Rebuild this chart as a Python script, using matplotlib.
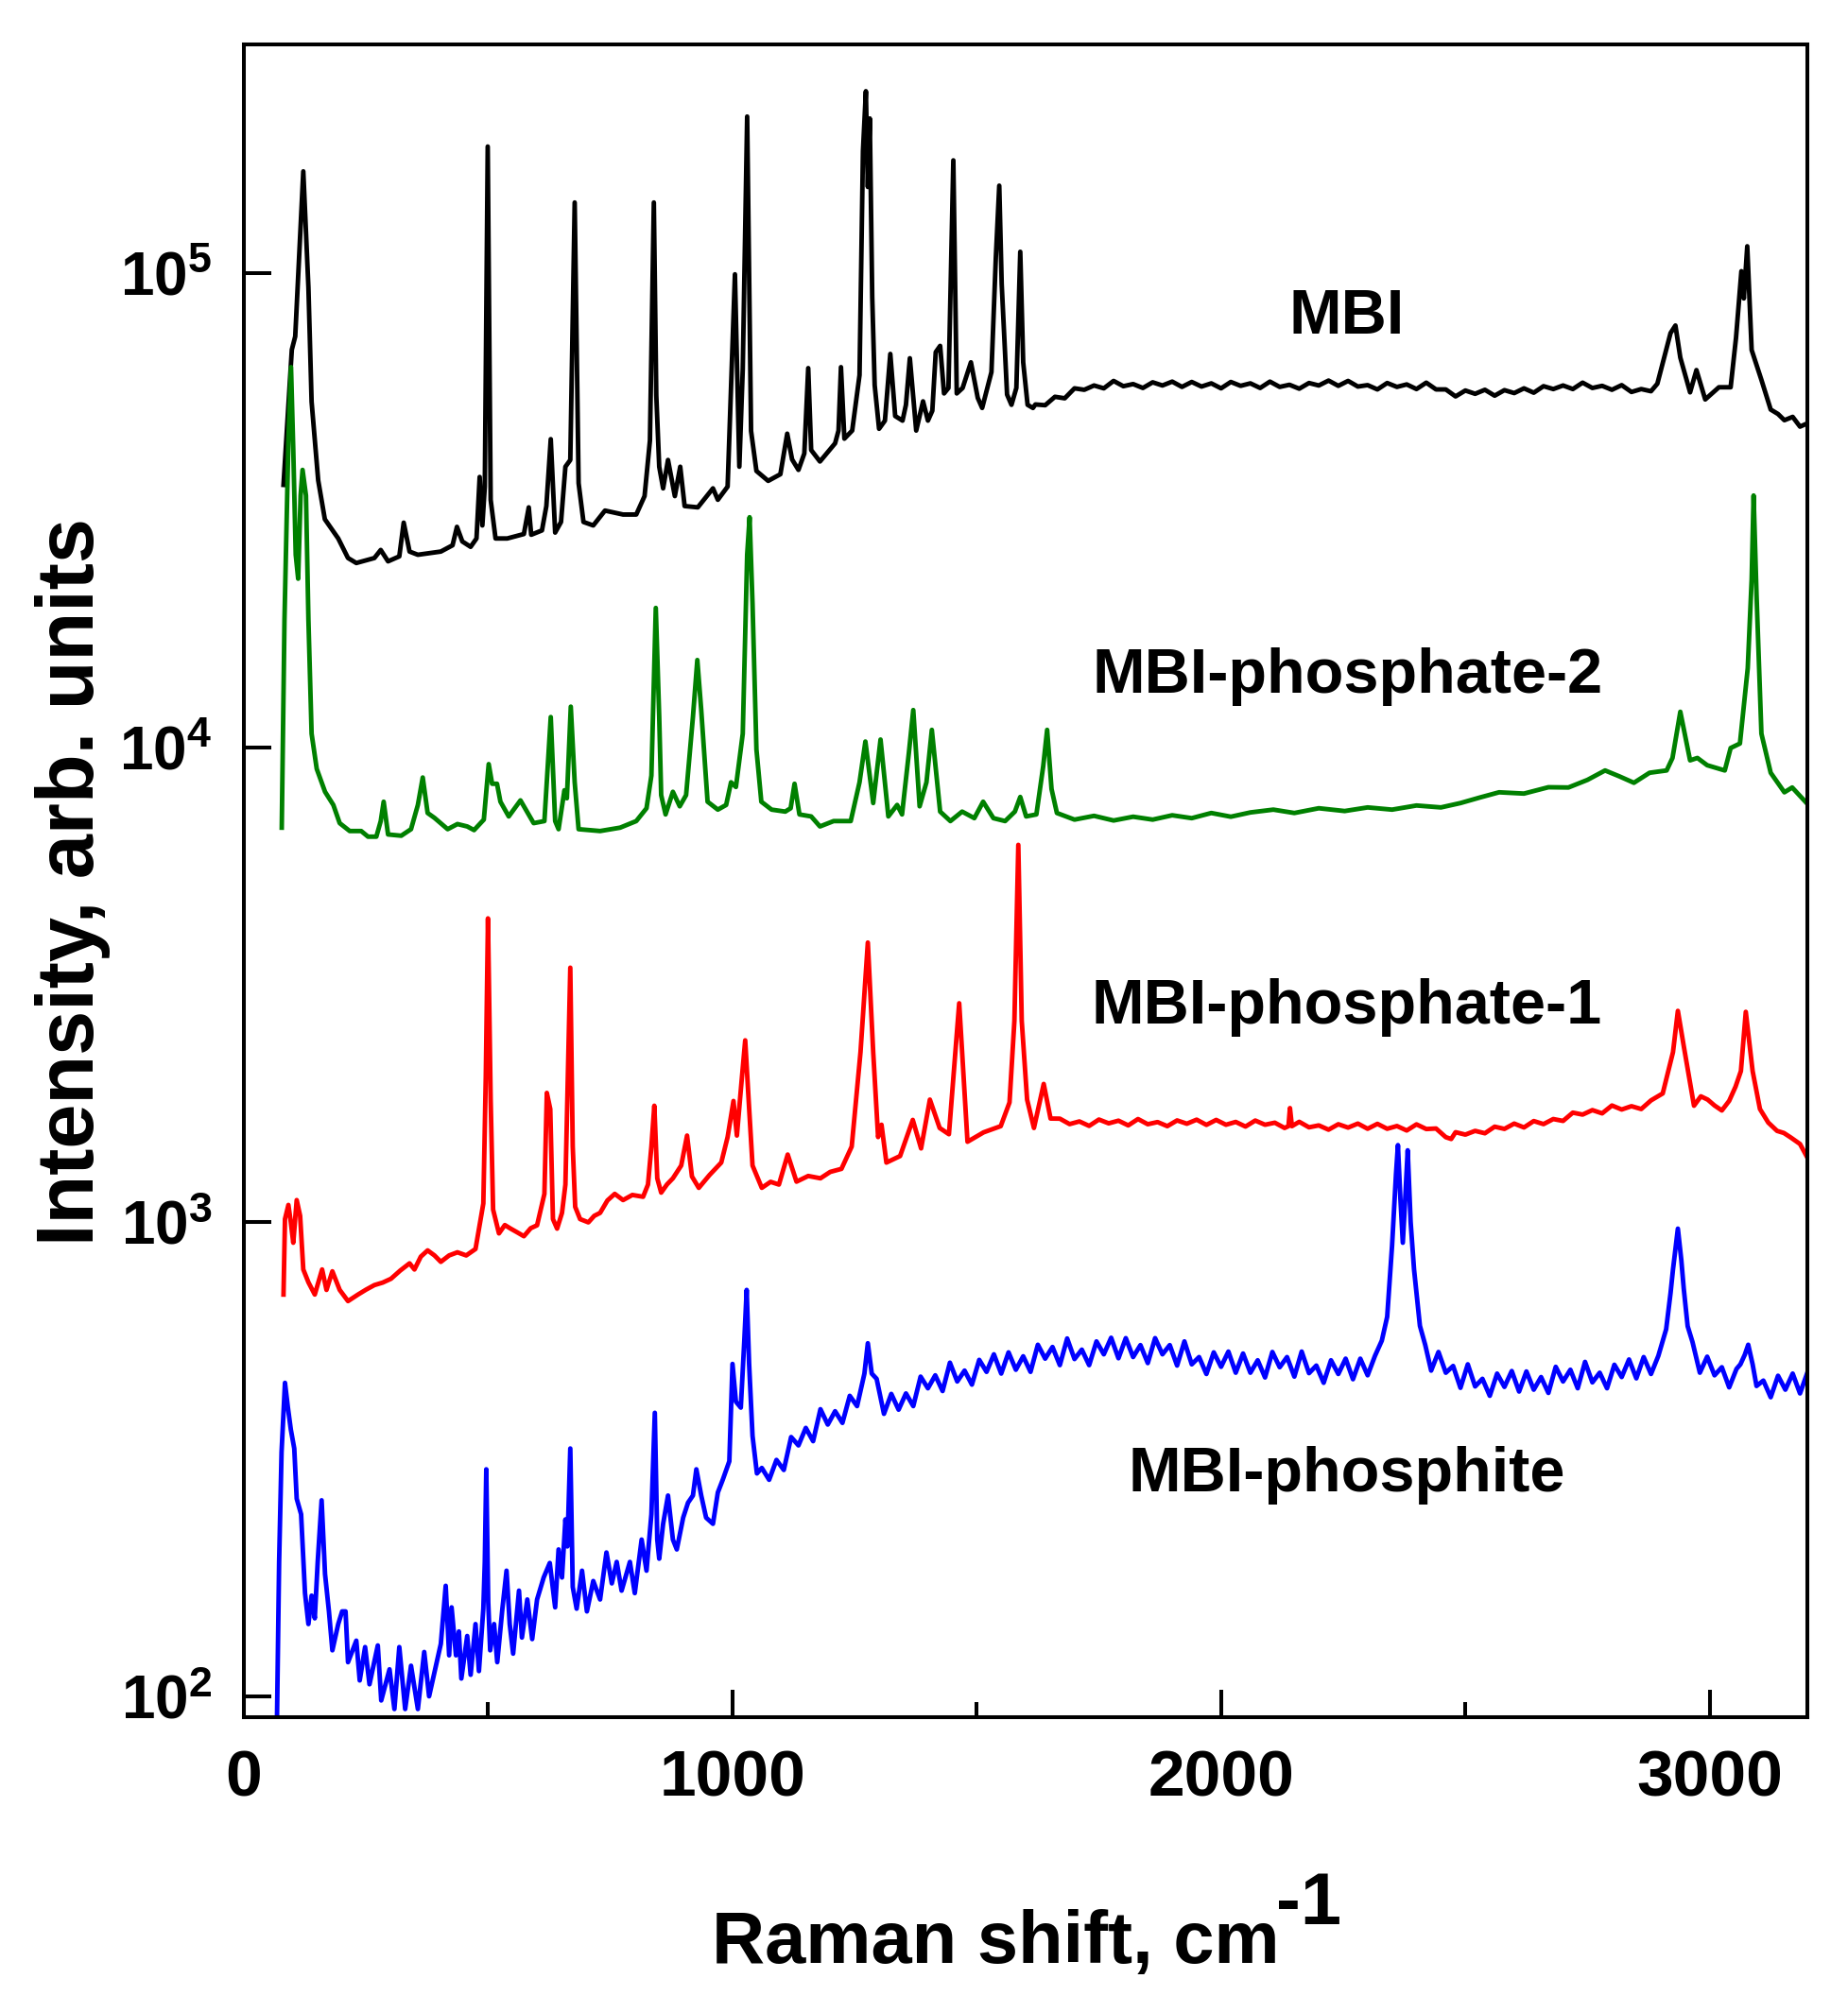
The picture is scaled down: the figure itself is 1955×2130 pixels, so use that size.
import matplotlib
matplotlib.use("Agg")
import matplotlib.pyplot as plt
from matplotlib.ticker import FixedLocator, FixedFormatter

plt.rcParams['font.family'] = ['Liberation Sans', 'DejaVu Sans']
plt.rcParams['font.weight'] = 'bold'
plt.rcParams['mathtext.fontset'] = 'custom'
plt.rcParams['mathtext.rm'] = 'Liberation Sans:bold'
plt.rcParams['mathtext.bf'] = 'Liberation Sans:bold'
plt.rcParams['mathtext.it'] = 'Liberation Sans:bold'
plt.rcParams['mathtext.default'] = 'rm'

# ---------------- data ----------------
mbi_x = [81, 98, 105, 121.5, 132, 138.5, 152, 165.6, 193, 213, 230, 267, 280, 295, 318, 327, 339, 356,
         403, 427, 436, 447, 464, 476, 482.5, 488, 493, 499, 505, 515, 539, 573, 583, 588, 610, 619, 628,
         637, 649, 658, 668, 677, 685, 695, 715, 739, 776, 803, 820, 831, 839, 844, 850, 858, 868, 882,
         893, 902, 929, 960, 970, 990, 1005, 1014, 1021, 1030, 1038, 1049, 1073, 1098, 1112, 1122, 1135,
         1147, 1155, 1161, 1179, 1210, 1217, 1222, 1229, 1245, 1260, 1267, 1273, 1277, 1281, 1286, 1291,
         1300, 1312, 1323, 1333, 1348, 1355, 1363, 1376, 1390, 1400, 1409, 1416, 1425, 1433, 1442, 1452,
         1459, 1471, 1488, 1502, 1511, 1530, 1539, 1546, 1551, 1562, 1571, 1581, 1589, 1595, 1604, 1615,
         1620, 1640, 1660, 1680, 1700, 1720, 1740, 1760, 1780, 1800, 1820, 1840, 1860, 1880, 1900, 1920,
         1940, 1960, 1980, 2000, 2020, 2040, 2060, 2080, 2100, 2120, 2140, 2160, 2180, 2200, 2220, 2240,
         2260, 2280, 2300, 2320, 2340, 2360, 2380, 2400, 2420, 2440, 2460, 2480, 2500, 2520, 2540, 2560,
         2580, 2600, 2620, 2640, 2660, 2680, 2700, 2720, 2740, 2760, 2780, 2800, 2820, 2840, 2860, 2880,
         2893, 2908, 2920, 2930, 2940, 2960, 2973, 2991, 3019, 3043, 3054, 3065, 3070, 3077, 3086, 3106,
         3125, 3140, 3153, 3170, 3185, 3197]
mbi_y = [3.58e4, 6.9e4, 7.36e4, 1.64e5, 9.33e4, 5.36e4, 3.66e4, 3.03e4, 2.76e4, 2.51e4, 2.45e4, 2.51e4,
         2.61e4, 2.47e4, 2.53e4, 2.98e4, 2.59e4, 2.55e4, 2.59e4, 2.67e4, 2.92e4, 2.72e4, 2.65e4, 2.76e4,
         3.72e4, 2.94e4, 3.55e4, 1.85e5, 3.33e4, 2.76e4, 2.76e4, 2.82e4, 3.21e4, 2.81e4, 2.87e4, 3.23e4,
         4.47e4, 2.84e4, 2.99e4, 3.91e4, 4.04e4, 1.41e5, 3.61e4, 2.99e4, 2.94e4, 3.16e4, 3.10e4, 3.10e4,
         3.39e4, 4.44e4, 1.41e5, 5.53e4, 3.91e4, 3.52e4, 4.04e4, 3.39e4, 3.91e4, 3.23e4, 3.21e4, 3.52e4,
         3.33e4, 3.55e4, 9.95e4, 3.91e4, 6.28e4, 2.14e5, 4.65e4, 3.83e4, 3.65e4, 3.77e4, 4.59e4, 4.05e4,
         3.85e4, 4.17e4, 6.31e4, 4.24e4, 4.01e4, 4.38e4, 4.66e4, 6.34e4, 4.48e4, 4.66e4, 6.10e4, 1.81e5,
         2.42e5, 1.52e5, 2.12e5, 8.91e4, 5.81e4, 4.70e4, 4.89e4, 6.76e4, 5.00e4, 4.89e4, 5.28e4, 6.62e4,
         4.66e4, 5.37e4, 4.89e4, 5.13e4, 6.82e4, 7.03e4, 5.58e4, 5.73e4, 1.73e5, 5.58e4, 5.73e4, 6.49e4,
         5.46e4, 5.20e4, 6.19e4, 1.08e5, 1.53e5, 9.49e4, 5.55e4, 5.28e4, 5.73e4, 1.11e5, 6.49e4, 5.28e4,
         5.20e4,
         5.29e4, 5.27e4, 5.49e4, 5.45e4, 5.72e4, 5.68e4, 5.80e4, 5.72e4, 5.93e4, 5.78e4, 5.84e4, 5.73e4,
         5.89e4, 5.80e4, 5.91e4, 5.76e4, 5.90e4, 5.77e4, 5.86e4, 5.72e4, 5.90e4, 5.79e4, 5.86e4, 5.73e4,
         5.91e4, 5.76e4, 5.82e4, 5.71e4, 5.87e4, 5.80e4, 5.94e4, 5.79e4, 5.93e4, 5.77e4, 5.81e4, 5.69e4,
         5.87e4, 5.76e4, 5.83e4, 5.70e4, 5.88e4, 5.69e4, 5.69e4, 5.50e4, 5.66e4, 5.57e4, 5.68e4, 5.52e4,
         5.67e4, 5.59e4, 5.72e4, 5.60e4, 5.78e4, 5.70e4, 5.80e4, 5.70e4, 5.88e4, 5.73e4, 5.79e4, 5.68e4,
         5.81e4, 5.62e4, 5.70e4, 5.64e4,
         5.85e4, 6.71e4, 7.48e4, 7.76e4, 6.64e4, 5.61e4, 6.25e4, 5.42e4, 5.75e4, 5.75e4, 7.31e4, 1.01e5,
         8.85e4, 1.14e5, 6.89e4, 5.96e4, 5.16e4, 5.05e4, 4.90e4, 4.98e4, 4.75e4, 4.81e4]

p2_x = [77.4, 83, 91, 96.4, 101, 106, 111, 116, 120, 127, 132, 138.5, 149, 166, 183, 196, 216.5, 240,
        254, 271, 280, 286, 295, 322, 342, 356, 366, 376, 390, 417, 437, 457, 471, 491, 501, 508, 518,
        525, 542, 566, 593, 615, 628, 637, 644, 656, 661, 669, 677, 685, 729, 770, 803, 824, 834, 843,
        850, 854, 863, 878, 892, 905, 919, 928, 936, 949, 970, 987, 997, 1007, 1021, 1030, 1035, 1041,
        1049, 1059, 1080, 1108, 1119, 1127, 1137, 1161, 1179, 1207, 1242, 1260, 1272, 1288, 1303, 1319,
        1337, 1347, 1361, 1370, 1383, 1397, 1408, 1425, 1446, 1470, 1495, 1513, 1534, 1558, 1578, 1589,
        1601, 1622, 1636, 1644, 1653, 1664, 1700, 1740, 1780, 1820, 1860, 1900, 1940, 1980, 2020, 2060,
        2107, 2150, 2200, 2253, 2300, 2350, 2400, 2450, 2490, 2530, 2569, 2620, 2670, 2711, 2750, 2786,
        2815, 2845, 2877, 2912, 2924, 2940, 2960, 2975, 2995, 3031, 3043, 3062, 3078, 3086, 3090, 3096,
        3106, 3125, 3153, 3169, 3197]
p2_y = [6.78e3, 1.86e4, 4.44e4, 6.34e4, 4.24e4, 2.55e4, 2.27e4, 3.40e4, 3.85e4, 3.40e4, 1.86e4, 1.07e4,
        9.02e3, 8.07e3, 7.57e3, 6.93e3, 6.67e3, 6.67e3, 6.49e3, 6.49e3, 7.00e3, 7.69e3, 6.56e3, 6.52e3,
        6.73e3, 7.57e3, 8.65e3, 7.28e3, 7.11e3, 6.73e3, 6.90e3, 6.82e3, 6.70e3, 7.05e3, 9.23e3, 8.39e3,
        8.39e3, 7.69e3, 7.16e3, 7.74e3, 6.93e3, 7.00e3, 1.16e4, 7.00e3, 6.73e3, 8.13e3, 7.82e3, 1.22e4,
        8.45e3, 6.73e3, 6.67e3, 6.78e3, 7.00e3, 7.45e3, 8.73e3, 1.97e4, 1.16e4, 7.94e3, 7.23e3, 8.07e3,
        7.52e3, 7.94e3, 1.16e4, 1.53e4, 1.20e4, 7.69e3, 7.40e3, 7.57e3, 8.45e3, 8.26e3, 1.07e4, 2.55e4,
        3.06e4, 2.01e4, 9.91e3, 7.69e3, 7.40e3, 7.33e3, 7.45e3, 8.39e3, 7.23e3, 7.16e3, 6.82e3, 7.00e3,
        7.00e3, 8.45e3, 1.03e4, 7.64e3, 1.04e4, 7.16e3, 7.57e3, 7.23e3, 9.75e3, 1.20e4, 7.52e3, 8.45e3,
        1.09e4, 7.33e3, 7.00e3, 7.33e3, 7.10e3, 7.69e3, 7.10e3, 7.00e3, 7.33e3, 7.87e3, 7.16e3, 7.23e3,
        9.14e3, 1.09e4, 8.18e3, 7.28e3, 7.05e3, 7.18e3, 7.02e3, 7.15e3, 7.05e3, 7.20e3, 7.10e3, 7.28e3,
        7.15e3, 7.30e3, 7.40e3, 7.28e3, 7.45e3, 7.35e3, 7.48e3, 7.40e3, 7.55e3, 7.48e3, 7.64e3, 7.85e3,
        8.05e3, 8.00e3, 8.25e3, 8.24e3, 8.55e3, 8.95e3, 8.70e3, 8.43e3, 8.85e3, 8.95e3, 9.51e3, 1.19e4,
        9.40e3, 9.51e3, 9.18e3, 8.95e3, 9.98e3, 1.02e4, 1.47e4, 2.26e4, 3.40e4, 2.10e4, 1.07e4, 8.85e3,
        8.05e3, 8.24e3, 7.67e3]

p1_x = [81, 84, 91, 96, 101, 108, 115, 121.5, 132, 145, 160, 169, 181, 196, 213, 233.5, 250, 267, 284,
        301, 320, 339, 349, 362, 376, 390, 403, 420, 437, 455, 474, 490, 495, 499.5, 505, 510, 522, 534,
        546, 560, 573, 587, 600, 615, 620, 627, 632.5, 641, 651, 658, 664, 668, 673, 678, 688, 705, 717,
        729, 744, 759, 776, 795, 817, 827, 834, 840, 846, 854, 866, 878, 895, 907, 917, 931, 953, 977, 990,
        1002, 1009, 1017, 1026, 1033, 1041, 1060, 1078, 1095, 1113, 1131, 1155, 1180, 1200, 1223, 1244,
        1262, 1277, 1288, 1298, 1305, 1315, 1343, 1369, 1386, 1404, 1424, 1443, 1464, 1481, 1514, 1549,
        1567, 1577, 1585, 1592, 1603, 1617, 1637, 1651,
        1670, 1690, 1710, 1730, 1750, 1770, 1790, 1810, 1830, 1850, 1870, 1890, 1910, 1930, 1950, 1970,
        1990, 2010, 2030, 2050, 2070, 2090, 2110, 2130, 2138, 2141, 2145, 2160, 2180, 2200, 2220, 2240,
        2260, 2280, 2300, 2320, 2340, 2360, 2380, 2400, 2420, 2440, 2460, 2471, 2480, 2500, 2520, 2540,
        2560, 2580, 2600, 2620, 2640, 2660, 2680, 2700, 2720, 2740, 2760, 2780, 2800, 2820, 2840, 2860,
        2880, 2904, 2925, 2935, 2947, 2968, 2982, 2996, 3010, 3025, 3040, 3053, 3064, 3074, 3088, 3103,
        3120, 3138, 3152, 3166, 3185, 3202]
p1_y = [703, 1014, 1086, 998, 904, 1112, 1030, 794, 746, 703, 794, 719, 787, 719, 681, 703, 720, 736, 745,
        759, 790, 818, 794, 845, 871, 850, 824, 850, 863, 850, 877, 1094, 2018, 4365, 1811, 1062, 946, 985,
        968, 950, 933, 970, 984, 1146, 1871, 1730, 1014, 968, 1045, 1199, 2280, 3436, 1442, 1076, 1014,
        998, 1030, 1045, 1110, 1146, 1112, 1140, 1130, 1199, 1442, 1758, 1236, 1153, 1200, 1236, 1315,
        1521, 1247, 1180, 1256, 1334, 1510, 1799, 1521, 1897, 2415, 1811, 1315, 1180, 1215, 1199, 1387,
        1216, 1250, 1236, 1275, 1294, 1442, 2280, 3882, 2280, 1510, 1603, 1334, 1377, 1641, 1429, 1811,
        1578, 1531, 2891, 1476, 1545, 1592, 1786, 2655, 6237, 2655, 1811, 1578, 1954, 1652,
        1651, 1608, 1629, 1594, 1644, 1614, 1635, 1598, 1648, 1607, 1624, 1592, 1637, 1611, 1643, 1602,
        1641, 1603, 1625, 1589, 1636, 1603, 1619, 1578, 1592, 1738, 1592, 1626, 1583, 1598, 1565, 1607,
        1581, 1612, 1572, 1610, 1572, 1593, 1559, 1606, 1570, 1574, 1509, 1496, 1546, 1528, 1556, 1538,
        1588, 1571, 1612, 1582, 1632, 1608, 1648, 1633, 1700, 1684, 1721, 1694, 1760, 1726, 1754, 1730,
        1804, 1866, 2280, 2786, 2350, 1758, 1840, 1811, 1760, 1718, 1800, 1928, 2080, 2773, 2080, 1730,
        1620, 1556, 1540, 1507, 1460, 1355]

pt_x = [67, 72, 77, 84, 90, 96, 103, 108, 117, 125, 132, 138.5, 145, 151, 159, 166, 174, 181, 193, 201,
        208, 213, 230, 237, 248, 257, 274, 281, 298, 308, 318, 330, 342, 356, 369, 379, 393, 403, 413,
        420, 425, 434, 440, 445, 457, 464, 474, 481, 490, 493, 496, 500, 504, 512, 518.5, 529, 537.5,
        544, 551, 563, 569, 580, 590, 600, 613.5, 626, 637, 644, 651, 658, 662, 668, 673, 681, 692, 702,
        715, 729, 742, 753, 763, 773, 790, 800, 814, 824, 834, 841, 846, 850, 858, 868, 878, 886, 899,
        909, 919, 926, 936, 946, 960, 970, 980, 993.5, 1000, 1007, 1017, 1024, 1029, 1034, 1041, 1050,
        1060, 1075, 1090, 1105, 1120, 1135, 1150, 1165, 1180, 1195, 1210, 1225, 1240, 1255, 1270, 1277,
        1285, 1295, 1310, 1325, 1340, 1355, 1370, 1385, 1400, 1415, 1430, 1445, 1460, 1475, 1490, 1505,
        1520, 1535, 1550, 1565, 1580, 1595, 1610, 1625, 1640, 1655, 1670, 1685, 1700, 1715, 1730, 1745,
        1760, 1775, 1790, 1805, 1820, 1835, 1850, 1865, 1880, 1895, 1910, 1925, 1940, 1955, 1970, 1985,
        2000, 2015, 2030, 2045, 2060, 2075, 2090, 2105, 2120, 2135, 2150, 2165, 2180, 2195, 2210, 2225,
        2240, 2255, 2270, 2285, 2300, 2315, 2329, 2340, 2350, 2358, 2362, 2367, 2372, 2377, 2382, 2388,
        2395, 2407, 2418, 2430, 2445, 2460, 2475, 2490, 2505, 2520, 2535, 2550, 2565, 2580, 2595, 2610,
        2625, 2640, 2655, 2670, 2685, 2700, 2715, 2730, 2745, 2760, 2775, 2790, 2805, 2820, 2835, 2850,
        2865, 2880, 2895, 2911, 2920, 2925, 2935, 2942, 2947, 2955, 2965, 2980, 2995, 3010, 3025, 3040,
        3055, 3063, 3072, 3079, 3088, 3096, 3110, 3125, 3140, 3155, 3170, 3185, 3200]
pt_y = [80, 192, 327, 458, 406, 365, 333, 261, 242, 165, 142, 163, 146, 192, 259, 181, 151, 125, 142, 151,
        151, 118, 131, 108, 127, 106, 128, 98, 114, 94, 127, 94, 116, 94, 124, 100, 116, 129, 171, 122,
        154, 122, 137, 109, 134, 111, 142, 113, 153, 192, 301, 158, 125, 142, 118, 153, 184, 142, 123,
        167, 133, 160, 132, 160, 178, 191, 154, 204, 178, 236, 207, 333, 170, 153, 184, 151, 175, 160,
        201, 173, 192, 167, 192, 165, 214, 184, 242, 396, 214, 195, 231, 265, 214, 204, 238, 256, 265,
        301, 265, 238, 231, 269, 286, 313, 502, 418, 406, 558, 719, 502, 354, 295,
        303, 286, 315, 300, 352, 338, 368, 345, 403, 374, 399, 377, 430, 409, 479, 555,
        479, 467, 394, 434, 402, 435, 409, 472, 446, 475, 440, 505, 461, 486, 454, 512,
        483, 526, 479, 531, 488, 521, 483, 551, 515, 545, 499, 568, 514, 538, 499, 560,
        526, 570, 516, 569, 519, 550, 504, 569, 526, 550, 498, 560, 501, 519, 478, 531,
        495, 533, 481, 528, 481, 511, 470, 532, 494, 519, 472, 533, 480, 498, 458, 511,
        478, 515, 466, 515, 475, 522, 562, 631, 891, 1259, 1452, 1122, 904, 1122, 1416, 1000,
        794, 604, 550, 486, 532, 481, 497, 447, 501, 450, 467, 430, 479, 449, 485, 439,
        484, 443, 471, 436, 495, 461, 488, 446, 507, 459, 481, 446, 500, 471, 513, 468,
        519, 478, 522, 594, 708, 794, 968, 832, 724, 603, 558, 481, 520, 475, 494, 448,
        490, 501, 525, 551, 501, 451, 463, 427, 474, 443, 479, 435, 481]

labels = ["MBI", "MBI-phosphate-2", "MBI-phosphate-1", "MBI-phosphite"]
label_x = [2258, 2258, 2258, 2258]
label_y = [7.47e4, 1.306e4, 2.625e3, 2.70e2]

x_major = [0, 1000, 2000, 3000]
x_minor = [500, 1500, 2500]
x_ticklabels = ["0", "1000", "2000", "3000"]
y_major = [1e2, 1e3, 1e4, 1e5]
y_ticklabels = [r"$10^{2}$", r"$10^{3}$", r"$10^{4}$", r"$10^{5}$"]

# ---------------- figure ----------------
fig = plt.figure(figsize=(19.55, 21.30), dpi=100)
ax = fig.add_axes([0.132, 0.147, 0.846, 0.8307])

lw = 3.5
ax.plot(mbi_x, mbi_y, color="#000000", lw=lw)
ax.plot(p2_x, p2_y, color="#008000", lw=lw)
ax.plot(p1_x, p1_y, color="#ff0000", lw=lw)
ax.plot(pt_x, pt_y, color="#0000ff", lw=lw)

ax.set_yscale("log")
ax.set_xlim(0, 3200)
ax.set_ylim(90.4, 3.03e5)

ax.xaxis.set_major_locator(FixedLocator(x_major))
ax.xaxis.set_major_formatter(FixedFormatter(x_ticklabels))
ax.xaxis.set_minor_locator(FixedLocator(x_minor))
ax.yaxis.set_major_locator(FixedLocator(y_major))
ax.yaxis.set_major_formatter(FixedFormatter(y_ticklabels))
ax.yaxis.set_minor_locator(FixedLocator([]))

for s in ax.spines.values():
    s.set_linewidth(2.9)

ax.tick_params(axis="both", which="major", direction="in", length=21, width=2.9,
               top=False, right=False)
ax.tick_params(axis="x", which="minor", direction="in", length=11.5, width=2.9, top=False)
ax.tick_params(axis="x", which="major", labelsize=50, pad=24)
ax.tick_params(axis="y", which="major", labelsize=46, pad=24)
for t in ax.get_xticklabels() + ax.get_yticklabels():
    t.set_fontweight("bold")

for txt, lx, ly in zip(labels, label_x, label_y):
    ax.text(lx, ly, txt, fontsize=48, fontweight="bold", ha="center", va="baseline")

# axis titles
fig.text(0.0394, 0.5620, "Intensity, arb. units", rotation=90, fontsize=61,
         fontweight="bold", ha="center", va="center")
fig.text(0.3852, 1 - 2077 / 2130, "Raman shift, cm", fontsize=56, fontweight="bold",
         ha="left", va="baseline")
fig.text(0.6905, 1 - 2036 / 2130, "-1", fontsize=56, fontweight="bold",
         ha="left", va="baseline")

fig.savefig("out.png", dpi=100, facecolor="white")
